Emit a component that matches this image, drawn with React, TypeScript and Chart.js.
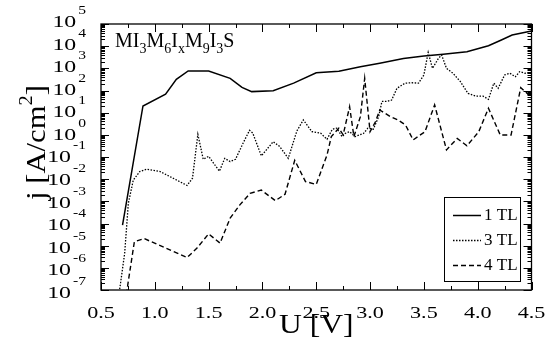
import React, { useEffect, useRef } from "react";
import { Chart, registerables } from "chart.js";

Chart.register(...registerables);

// ---- data (U in V, j in A/cm^2) ----
const u1TL = [0.70, 0.89, 1.10, 1.20, 1.31, 1.50, 1.70, 1.81, 1.90, 2.10, 2.29, 2.50, 2.71, 2.91, 3.09, 3.31, 3.50, 3.68, 3.90, 4.10, 4.22, 4.32, 4.50];
const j1TL = [8.5e-5, 20, 69, 320, 760, 760, 355, 138, 89, 98, 214, 630, 740, 1175, 1700, 2750, 3630, 4370, 5620, 10500, 19000, 31600, 47900];

const u3TL = [0.67, 0.72, 0.754, 0.80, 0.86, 0.925, 1.05, 1.30, 1.35, 1.40, 1.45, 1.50, 1.60, 1.65, 1.70, 1.75, 1.82, 1.88, 1.91, 1.99, 2.10, 2.16, 2.24, 2.32, 2.38, 2.46, 2.54, 2.60, 2.65, 2.69, 2.74, 2.77, 2.81, 2.86, 2.94, 2.98, 3.03, 3.08, 3.11, 3.155, 3.20, 3.25, 3.325, 3.39, 3.45, 3.50, 3.54, 3.58, 3.635, 3.665, 3.71, 3.77, 3.84, 3.91, 3.98, 4.05, 4.10, 4.15, 4.19, 4.25, 4.30, 4.35, 4.39, 4.44, 4.50];
const j3TL = [8e-8, 4.6e-6, 8.1e-4, 9.1e-3, 0.022, 0.028, 0.022, 5.2e-3, 0.011, 1.05, 0.079, 0.107, 0.023, 0.087, 0.062, 0.079, 0.42, 1.6, 1.2, 0.112, 0.49, 0.30, 0.087, 1.5, 4.7, 1.38, 1.2, 0.63, 1.8, 2.0, 0.83, 1.17, 1.38, 0.83, 1.17, 2.0, 1.8, 6.6, 32, 32, 37, 126, 214, 224, 214, 500, 5250, 1000, 2800, 4000, 1000, 600, 250, 74, 56, 56, 40, 214, 126, 500, 600, 417, 708, 600, 650];

const u4TL = [0.735, 0.81, 0.90, 1.30, 1.39, 1.50, 1.606, 1.70, 1.79, 1.885, 1.99, 2.12, 2.21, 2.30, 2.40, 2.50, 2.60, 2.64, 2.71, 2.75, 2.81, 2.85, 2.91, 2.95, 3.00, 3.05, 3.09, 3.19, 3.26, 3.33, 3.40, 3.51, 3.60, 3.71, 3.81, 3.90, 4.01, 4.10, 4.21, 4.31, 4.40, 4.50];
const j4TL = [6.3e-8, 1.5e-5, 2.1e-5, 2.9e-6, 7.6e-6, 3.4e-5, 1.3e-5, 1.74e-4, 6.9e-4, 2.3e-3, 3.2e-3, 1.07e-3, 2.1e-3, 0.071, 7.8e-3, 5.8e-3, 0.123, 0.83, 2.0, 1.0, 18.6, 0.83, 6.6, 355, 1.38, 3.9, 13.2, 6.6, 4.7, 2.75, 0.59, 1.38, 22.4, 0.21, 0.69, 0.32, 1.38, 15.8, 0.98, 0.98, 135, 50];

const seriesLabels = ["1 TL", "3 TL", "4 TL"];
const xTickValues = [0.5, 1.0, 1.5, 2.0, 2.5, 3.0, 3.5, 4.0, 4.5];
const xTickLabels = ["0.5", "1.0", "1.5", "2.0", "2.5", "3.0", "3.5", "4.0", "4.5"];
const yExponents = [5, 4, 3, 2, 1, 0, -1, -2, -3, -4, -5, -6, -7];

const FONT = '"Liberation Serif", "Times New Roman", serif';

type Run = { t: string; size: number; dy: number };

function drawRuns(ctx: CanvasRenderingContext2D, runs: Run[], x: number, y: number, hscale: number) {
  let cx = x;
  for (const r of runs) {
    ctx.save();
    ctx.font = `${r.size}px ${FONT}`;
    ctx.textAlign = "left";
    ctx.textBaseline = "alphabetic";
    ctx.translate(cx, y + r.dy);
    ctx.scale(hscale, 1);
    ctx.fillText(r.t, 0, 0);
    const w = ctx.measureText(r.t).width * hscale;
    ctx.restore();
    cx += w;
  }
  return cx - x;
}

function runsWidth(ctx: CanvasRenderingContext2D, runs: Run[], hscale: number) {
  let w = 0;
  for (const r of runs) {
    ctx.save();
    ctx.font = `${r.size}px ${FONT}`;
    w += ctx.measureText(r.t).width * hscale;
    ctx.restore();
  }
  return w;
}

const decorPlugin = {
  id: "decor",
  afterDraw(chart: any) {
    const ctx: CanvasRenderingContext2D = chart.ctx;
    const xs = chart.scales.x;
    const ys = chart.scales.y;
    const { left, right, top, bottom } = chart.chartArea;
    ctx.save();
    ctx.fillStyle = "#000";
    ctx.strokeStyle = "#000";

    // frame
    ctx.lineWidth = 1.3;
    ctx.strokeRect(left, top, right - left, bottom - top);

    // x ticks (inward, bottom and top)
    ctx.lineWidth = 1;
    ctx.beginPath();
    xTickValues.forEach((v, i) => {
      const px = Math.round(xs.getPixelForValue(v)) + 0.5;
      ctx.moveTo(px, bottom); ctx.lineTo(px, bottom - 8);
      ctx.moveTo(px, top); ctx.lineTo(px, top + 8);
      if (i < xTickValues.length - 1) {
        const mv = (v + xTickValues[i + 1]) / 2;
        const mx = Math.round(xs.getPixelForValue(mv)) + 0.5;
        ctx.moveTo(mx, bottom); ctx.lineTo(mx, bottom - 4);
        ctx.moveTo(mx, top); ctx.lineTo(mx, top + 4);
      }
    });
    // y ticks (inward, left and right)
    yExponents.forEach((e) => {
      const py = Math.round(ys.getPixelForValue(Math.pow(10, e))) + 0.5;
      ctx.moveTo(left, py); ctx.lineTo(left + 8, py);
      ctx.moveTo(right, py); ctx.lineTo(right - 8, py);
      if (e < 5) {
        for (let m = 2; m <= 9; m++) {
          const my = Math.round(ys.getPixelForValue(m * Math.pow(10, e))) + 0.5;
          ctx.moveTo(left, my); ctx.lineTo(left + 4, my);
          ctx.moveTo(right, my); ctx.lineTo(right - 4, my);
        }
      }
    });
    ctx.stroke();

    // x tick labels
    xTickValues.forEach((v, i) => {
      const px = xs.getPixelForValue(v);
      const runs = [{ t: xTickLabels[i], size: 17, dy: 0 }];
      const w = runsWidth(ctx, runs, 1.3);
      drawRuns(ctx, runs, px - w / 2, bottom + 28, 1.3);
    });

    // y tick labels: 10^e
    yExponents.forEach((e, i) => {
      const base = top + 3 + i * 22.58;
      const expStr = e < 0 ? "-" + Math.abs(e) : String(e);
      const expRuns = [{ t: expStr, size: 12, dy: -13 }];
      const ew = runsWidth(ctx, expRuns, 1.3);
      const baseRuns = [{ t: "10", size: 17, dy: 0 }];
      const bw = runsWidth(ctx, baseRuns, 1.4);
      const rightEdge = 86;
      drawRuns(ctx, expRuns, rightEdge - ew, base, 1.3);
      drawRuns(ctx, baseRuns, rightEdge - ew - 2 - bw, base, 1.4);
    });

    // x axis title
    {
      const runs = [{ t: "U [V]", size: 27, dy: 0 }];
      const w = runsWidth(ctx, runs, 1.17);
      drawRuns(ctx, runs, (left + right) / 2 - w / 2, 333, 1.17);
    }

    // y axis title (rotated)
    {
      ctx.save();
      ctx.translate(45, 200);
      ctx.rotate(-Math.PI / 2);
      const runs = [
        { t: "j [A/cm", size: 27, dy: 0 },
        { t: "2", size: 18, dy: -13 },
        { t: "]", size: 27, dy: 0 },
      ];
      const w = runsWidth(ctx, runs, 1);
      drawRuns(ctx, runs, 0, 0, 115 / w);
      ctx.restore();
    }

    // in-plot title
    {
      const S = 20, s = 14, d = 6;
      const runs = [
        { t: "MI", size: S, dy: 0 }, { t: "3", size: s, dy: d },
        { t: "M", size: S, dy: 0 }, { t: "6", size: s, dy: d },
        { t: "I", size: S, dy: 0 }, { t: "x", size: s, dy: d },
        { t: "M", size: S, dy: 0 }, { t: "9", size: s, dy: d },
        { t: "I", size: S, dy: 0 }, { t: "3", size: s, dy: d },
        { t: "S", size: S, dy: 0 },
      ];
      drawRuns(ctx, runs, 115, 47, 1);
    }

    // legend box
    {
      const bx = 444, by = 197, bw = 76, bh = 84;
      ctx.fillStyle = "#fff";
      ctx.fillRect(bx, by, bw, bh);
      ctx.lineWidth = 1;
      ctx.strokeRect(bx + 0.5, by + 0.5, bw, bh);
      ctx.fillStyle = "#000";
      const datasets = chart.data.datasets;
      const baselines = [220, 245, 270];
      seriesLabels.forEach((lab, i) => {
        const ds = datasets[i];
        const ly = baselines[i] - 4.5;
        ctx.save();
        ctx.lineWidth = ds.borderWidth;
        ctx.setLineDash(ds.borderDash || []);
        ctx.beginPath();
        ctx.moveTo(453, ly);
        ctx.lineTo(481, ly);
        ctx.stroke();
        ctx.restore();
        drawRuns(ctx, [{ t: lab, size: 17, dy: 0 }], 484, baselines[i], 1);
      });
    }
    ctx.restore();
  },
};

export default function App() {
  const ref = useRef<HTMLCanvasElement | null>(null);
  useEffect(() => {
    if (!ref.current) return;
    const mk = (us: number[], js: number[]) => us.map((u, i) => ({ x: u, y: js[i] }));
    const chart = new Chart(ref.current, {
      type: "line",
      data: {
        datasets: [
          { label: seriesLabels[0], data: mk(u1TL, j1TL), borderColor: "#000", borderWidth: 1.5, pointRadius: 0, fill: false, tension: 0 },
          { label: seriesLabels[1], data: mk(u3TL, j3TL), borderColor: "#000", borderWidth: 1.3, borderDash: [1.5, 1.5], pointRadius: 0, fill: false, tension: 0 },
          { label: seriesLabels[2], data: mk(u4TL, j4TL), borderColor: "#000", borderWidth: 1.4, borderDash: [5, 3], pointRadius: 0, fill: false, tension: 0 },
        ],
      },
      options: {
        responsive: false,
        animation: false,
        devicePixelRatio: 1,
        layout: { padding: { left: 0, top: 24, right: 27.5, bottom: 0 } },
        scales: {
          x: {
            type: "linear", min: 0.5, max: 4.5,
            ticks: { display: false }, grid: { display: false }, border: { display: false },
            afterFit: (s: any) => { s.height = 62; },
          },
          y: {
            type: "logarithmic", min: 1e-7, max: 1e5,
            ticks: { display: false }, grid: { display: false }, border: { display: false },
            afterFit: (s: any) => { s.width = 101; },
          },
        },
        plugins: { legend: { display: false }, tooltip: { enabled: false } },
      },
      plugins: [decorPlugin],
    } as any);
    return () => chart.destroy();
  }, []);
  return (
    <div style={{ position: "fixed", left: 0, top: 0, width: 559, height: 352, background: "#fff" }}>
      <canvas ref={ref} width={559} height={352} style={{ display: "block" }} />
    </div>
  );
}
